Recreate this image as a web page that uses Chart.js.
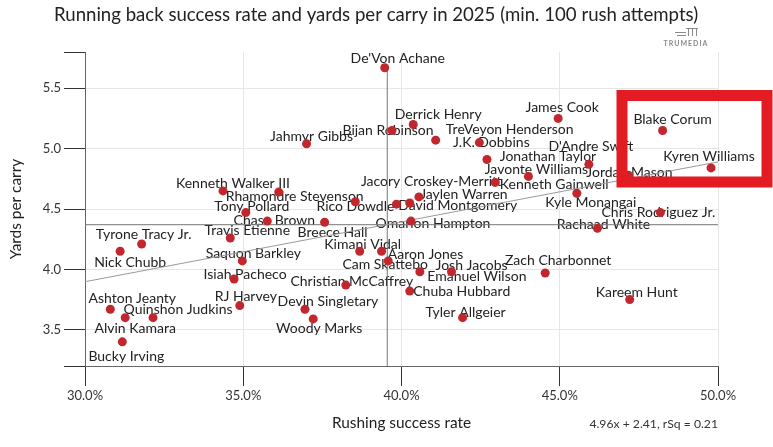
<!DOCTYPE html>
<html>
<head>
<meta charset="utf-8">
<script src="https://cdn.jsdelivr.net/npm/chart.js@4.4.0/dist/chart.umd.min.js"></script>
<style>
  body { margin: 0; background: #fff; }
</style>
</head>
<body>
<canvas id="rbChart" width="773" height="447"></canvas>
<script>
// 2025 running backs, min. 100 rush attempts
const players = [
  "De'Von Achane", 'Derrick Henry', 'James Cook', 'Blake Corum', 'Bijan Robinson',
  'TreVeyon Henderson', 'Jahmyr Gibbs', 'J.K. Dobbins', "D'Andre Swift", 'Jonathan Taylor',
  'Kyren Williams', 'Javonte Williams', 'Jordan Mason', 'Kenneth Walker III', 'Jacory Croskey-Merritt',
  'Kenneth Gainwell', 'Rhamondre Stevenson', 'Jaylen Warren', 'Kyle Monangai', 'Tony Pollard',
  'Rico Dowdle', 'David Montgomery', 'Chris Rodriguez Jr.', 'Chase Brown', 'Omarion Hampton',
  'Travis Etienne', 'Breece Hall', 'Rachaad White', 'Tyrone Tracy Jr.', 'Kimani Vidal',
  'Aaron Jones', 'Nick Chubb', 'Saquon Barkley', 'Cam Skattebo', 'Zach Charbonnet',
  'Josh Jacobs', 'Emanuel Wilson', 'Isiah Pacheco', 'Christian McCaffrey', 'Chuba Hubbard',
  'Ashton Jeanty', 'RJ Harvey', 'Devin Singletary', 'Quinshon Judkins', 'Kareem Hunt',
  'Tyler Allgeier', 'Woody Marks', 'Alvin Kamara', 'Bucky Irving'
];
// rushing success rate, %
const successRate = [
  39.47, 40.37, 44.95, 48.25, 39.70,
  41.08, 37.00, 42.46, 45.92, 42.70,
  49.78, 44.01, 47.17, 34.36, 38.54,
  42.96, 36.12, 40.55, 45.54, 35.08,
  39.84, 40.26, 48.18, 35.76, 40.30,
  34.59, 37.57, 46.19, 31.79, 38.68,
  39.37, 31.11, 34.97, 39.58, 44.54,
  41.58, 40.58, 34.71, 38.24, 40.26,
  30.80, 34.89, 36.95, 32.15, 47.21,
  41.93, 37.21, 31.27, 31.18
];
const yardsPerCarry = [
  5.67, 5.20, 5.25, 5.15, 5.15,
  5.07, 5.04, 5.05, 4.87, 4.91,
  4.84, 4.77, 4.78, 4.65, 4.56,
  4.72, 4.64, 4.60, 4.63, 4.47,
  4.54, 4.55, 4.47, 4.40, 4.40,
  4.26, 4.39, 4.34, 4.21, 4.15,
  4.15, 4.15, 4.07, 4.07, 3.97,
  3.98, 3.98, 3.92, 3.87, 3.82,
  3.67, 3.70, 3.67, 3.60, 3.75,
  3.60, 3.59, 3.60, 3.40
];

const medianRate = 39.55;
const medianYpc = 4.37;
const slope = 4.96;
const intercept = 2.41;
const rSq = 0.21;

const xTicks = [30, 35, 40, 45, 50];
const yTicks = [3.2, 3.5, 4.0, 4.5, 5.0, 5.5, 5.8];
const yTickLabels = [3.5, 4.0, 4.5, 5.0, 5.5];

// label placement relative to each dot (px)
const labelDx = [
  13, 25, 4, 10, -4,
  74, 5, 12, 2, 61,
  -2, 8, 1, 10, 76,
  59, 16, 45, 14, 6,
  -41, 48, -2, 7, 22,
  17, 8, 6, 2, 3,
  44, 10, 11, -3, 13,
  20, 57, 11, 6, 52,
  22, 6, 23, 25, 7,
  3, 6, 10, 4
];
const labelDy = [
  -9, -10, -11, -11, 0,
  -11, -7, 0, -18, -3,
  -11, -7, -3, -7, -20,
  2, 4, -2, 9, -6,
  2, 3, 0, -1, 2,
  -8, 10, -4, -10, -7,
  3, 11, -7, 4, -13,
  -6, 5, -5, -4, 0,
  -11, -9, -8, -8, -7,
  -5, 10, 11, 15
];

Chart.defaults.font.family = 'Lato';
Chart.defaults.color = '#333';

const points = successRate.map((x, i) => ({ x: x, y: yardsPerCarry[i] }));
const trend = [xTicks[0], xTicks[xTicks.length - 1]].map(x => ({ x: x, y: slope * x / 100 + intercept }));
const ypcMax = Math.max(...yardsPerCarry);

const rbPlugin = {
  id: 'rbExtras',
  beforeDatasetsDraw(chart) {
    const ctx = chart.ctx;
    const meta = chart.getDatasetMeta(0);
    ctx.save();
    ctx.font = '14px Lato';
    ctx.fillStyle = '#222';
    ctx.textAlign = 'center';
    ctx.textBaseline = 'middle';
    meta.data.forEach((pt, i) => {
      ctx.fillText(players[i], pt.x + labelDx[i], pt.y + labelDy[i]);
    });
    ctx.restore();
  },
  afterDraw(chart) {
    const ctx = chart.ctx;
    ctx.save();
    ctx.fillStyle = '#222';
    ctx.textBaseline = 'middle';
    ctx.font = '18.6px Lato';
    ctx.textAlign = 'left';
    ctx.fillText('Running back success rate and yards per carry in 2025 (min. 100 rush attempts)', 54, 15);

    ctx.font = '12.2px Lato';
    ctx.fillStyle = '#333';
    ctx.textAlign = 'right';
    ctx.fillText(slope + 'x + ' + intercept + ', rSq = ' + rSq, chart.chartArea.right, 424);

    // logo
    ctx.fillStyle = '#8a8a8a';
    ctx.strokeStyle = '#8a8a8a';
    ctx.lineWidth = 1;
    ctx.font = 'bold 7px Lato';
    ctx.letterSpacing = '1px';
    ctx.textAlign = 'center';
    ctx.fillText('TRUMEDIA', 686, 43.5);
    ctx.beginPath();
    ctx.moveTo(675, 32.5); ctx.lineTo(686, 32.5);
    ctx.moveTo(677, 35.5); ctx.lineTo(686, 35.5);
    ctx.moveTo(686, 28.5); ctx.lineTo(698, 28.5);
    ctx.moveTo(688.5, 28.5); ctx.lineTo(688.5, 36);
    ctx.moveTo(692.5, 28.5); ctx.lineTo(692.5, 36);
    ctx.moveTo(696.5, 28.5); ctx.lineTo(696.5, 36);
    ctx.stroke();

    // highlight box
    ctx.strokeStyle = '#e31b23';
    ctx.lineWidth = 11;
    ctx.strokeRect(622, 95.5, 145, 86.5);
    ctx.restore();
  }
};

new Chart(document.querySelector('#rbChart'), {
  type: 'scatter',
  data: {
    datasets: [
      {
        label: 'Players',
        data: points,
        backgroundColor: '#c1272d',
        borderWidth: 0,
        pointRadius: 4.5,
        order: 0
      },
      {
        label: 'Trend',
        data: trend,
        showLine: true,
        borderColor: '#9a9a9a',
        borderWidth: 1,
        pointRadius: 0,
        order: 1
      },
      {
        label: 'Median rate',
        data: [{ x: medianRate, y: 3.2 }, { x: medianRate, y: ypcMax }],
        showLine: true,
        borderColor: '#777',
        borderWidth: 1,
        pointRadius: 0,
        order: 1
      },
      {
        label: 'Median ypc',
        data: [{ x: 30, y: medianYpc }, { x: 50, y: medianYpc }],
        showLine: true,
        borderColor: '#777',
        borderWidth: 1,
        pointRadius: 0,
        order: 1
      }
    ]
  },
  options: {
    responsive: false,
    animation: false,
    layout: { padding: { top: 52, right: 55, left: 0, bottom: 0 } },
    plugins: {
      legend: { display: false },
      tooltip: { enabled: false }
    },
    scales: {
      x: {
        type: 'linear',
        min: 30,
        max: 50,
        afterBuildTicks: s => { s.ticks = xTicks.map(v => ({ value: v })); },
        afterFit: s => { s.height = 81; },
        ticks: {
          autoSkip: false,
          maxRotation: 0,
          padding: 2,
          font: { size: 13 },
          callback: v => v.toFixed(1) + '%'
        },
        grid: {
          color: c => (c.tick && c.tick.value === 30) ? 'transparent' : '#e6e6e6',
          tickColor: '#333',
          tickLength: 20
        },
        border: { color: '#666' },
        title: {
          display: true,
          text: 'Rushing success rate',
          color: '#222',
          font: { size: 15.4 },
          padding: { top: 0, bottom: 15 }
        }
      },
      y: {
        min: 3.2,
        max: 5.8,
        afterBuildTicks: s => { s.ticks = yTicks.map(v => ({ value: v })); },
        afterFit: s => { s.width = 85; },
        ticks: {
          autoSkip: false,
          padding: 3,
          font: { size: 13 },
          callback: v => yTickLabels.includes(v) ? v.toFixed(1) : ''
        },
        grid: {
          color: c => (c.tick && yTickLabels.includes(c.tick.value)) ? '#e6e6e6' : 'transparent',
          tickColor: '#333',
          tickLength: 21
        },
        border: { color: '#666' },
        title: {
          display: true,
          text: 'Yards per carry',
          color: '#222',
          font: { size: 15.4 },
          padding: { top: 7, bottom: 0 }
        }
      }
    }
  },
  plugins: [rbPlugin]
});
</script>
</body>
</html>
